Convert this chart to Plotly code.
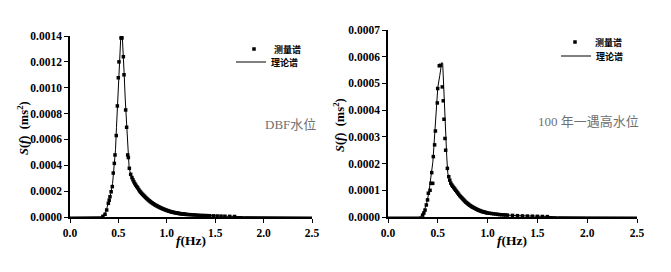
import plotly.graph_objects as go

# ---------------- data (S values in units of 1e-4 m^2 s) ----------------
# Left panel: DBF water level -- measured spectrum
meas_f_left = [0.340, 0.362, 0.379, 0.396, 0.405, 0.413, 0.425, 0.437, 0.447, 0.458,
               0.465, 0.478, 0.489, 0.499, 0.506, 0.527, 0.537, 0.551, 0.558, 0.575,
               0.585, 0.596, 0.603, 0.613, 0.627,
               0.64, 0.65, 0.66, 0.67, 0.68, 0.69, 0.70, 0.71, 0.72, 0.73,
               0.74, 0.75, 0.76, 0.77, 0.78, 0.79, 0.80, 0.81, 0.82, 0.83,
               0.84, 0.85, 0.86, 0.87, 0.88, 0.89, 0.90, 0.91, 0.92, 0.93,
               0.94, 0.95, 0.96, 0.97, 0.98, 0.99, 1.00, 1.01, 1.02, 1.03,
               1.04, 1.05, 1.06, 1.07, 1.08, 1.09, 1.10, 1.11, 1.12, 1.13,
               1.14, 1.15, 1.16, 1.17, 1.18, 1.19, 1.20, 1.22, 1.24, 1.26,
               1.28, 1.30, 1.32, 1.35, 1.38, 1.41, 1.44, 1.48, 1.52, 1.56,
               1.60, 1.65, 1.70]
meas_s_left = [0.05, 0.21, 0.54, 1.06, 1.30, 1.57, 1.95, 2.35, 3.40, 4.15,
               4.80, 6.30, 8.59, 10.77, 12.00, 13.85, 13.85, 12.40, 11.00, 8.28,
               6.94, 4.80, 4.60, 3.77, 3.30,
               3.05, 2.88, 2.72, 2.58, 2.46, 2.35, 2.25, 2.12, 2.01, 1.92,
               1.83, 1.75, 1.67, 1.60, 1.52, 1.45, 1.38, 1.31, 1.25, 1.19,
               1.13, 1.08, 1.03, 0.98, 0.93, 0.89, 0.85, 0.81, 0.77, 0.73,
               0.70, 0.66, 0.63, 0.60, 0.57, 0.54, 0.51, 0.49, 0.46, 0.44,
               0.41, 0.39, 0.37, 0.355, 0.34, 0.325, 0.31, 0.295, 0.28, 0.27,
               0.26, 0.25, 0.24, 0.23, 0.22, 0.21, 0.20, 0.19, 0.18, 0.17,
               0.16, 0.15, 0.14, 0.13, 0.12, 0.11, 0.10, 0.09, 0.08, 0.07,
               0.06, 0.05, 0.04]
# Left panel -- theoretical spectrum
theo_f_left = [0.0, 0.30, 0.32, 0.34, 0.36, 0.38, 0.40, 0.42, 0.44, 0.46, 0.47, 0.48,
               0.49, 0.50, 0.51, 0.52, 0.525, 0.54, 0.55, 0.56, 0.57, 0.58, 0.59,
               0.60, 0.61, 0.62, 0.64, 0.66, 0.70, 0.75, 0.80, 0.85, 0.90, 0.95,
               1.0, 1.1, 1.2, 1.3, 1.4, 1.5, 1.6, 1.8, 2.0, 2.5]
theo_s_left = [0.0, 0.0, 0.02, 0.10, 0.30, 0.65, 1.15, 1.80, 2.60, 4.00, 5.20, 6.90,
               8.70, 10.80, 12.40, 13.60, 14.00, 14.00, 12.80, 11.00, 9.20, 7.60, 5.90,
               4.60, 3.90, 3.50, 3.00, 2.70, 2.25, 1.75, 1.38, 1.08, 0.85, 0.66,
               0.51, 0.31, 0.20, 0.15, 0.11, 0.085, 0.06, 0.03, 0.015, 0.0]

# Right panel: 100-year high water level -- measured spectrum
meas_f_right = [0.348, 0.360, 0.372, 0.385, 0.397, 0.405, 0.422, 0.432, 0.439, 0.449,
                0.455, 0.468, 0.476, 0.495, 0.499, 0.515, 0.528, 0.545, 0.555, 0.562,
                0.572, 0.579, 0.596, 0.610, 0.620,
                0.63, 0.64, 0.65, 0.66, 0.67, 0.68, 0.69, 0.70, 0.71, 0.72,
                0.73, 0.74, 0.75, 0.76, 0.77, 0.78, 0.79, 0.80, 0.81, 0.82,
                0.83, 0.84, 0.85, 0.86, 0.87, 0.88, 0.89, 0.90, 0.91, 0.92,
                0.93, 0.94, 0.95, 0.96, 0.97, 0.98, 0.99, 1.00, 1.02, 1.04,
                1.06, 1.08, 1.10, 1.12, 1.14, 1.16, 1.18, 1.20, 1.25, 1.30,
                1.35, 1.40, 1.45, 1.50, 1.55, 1.60]
meas_s_right = [0.07, 0.15, 0.26, 0.45, 0.64, 0.89, 1.00, 1.26, 1.66, 1.26,
                2.26, 2.70, 3.22, 4.27, 4.81, 5.66, 5.68, 4.87, 4.35, 3.66,
                2.94, 2.50, 1.82, 1.51, 1.38,
                1.27, 1.20, 1.15, 1.10, 1.05, 1.00, 0.95, 0.90, 0.85, 0.80,
                0.76, 0.72, 0.68, 0.64, 0.60, 0.56, 0.53, 0.50, 0.47, 0.44,
                0.415, 0.39, 0.37, 0.35, 0.33, 0.31, 0.29, 0.27, 0.255, 0.24,
                0.225, 0.21, 0.20, 0.19, 0.18, 0.17, 0.16, 0.15, 0.14, 0.13,
                0.12, 0.11, 0.10, 0.09, 0.085, 0.08, 0.075, 0.07, 0.06, 0.05,
                0.04, 0.035, 0.03, 0.025, 0.02, 0.015]
# Right panel -- theoretical spectrum
theo_f_right = [0.0, 0.31, 0.33, 0.35, 0.37, 0.39, 0.41, 0.43, 0.45, 0.46, 0.47, 0.48,
                0.49, 0.50, 0.52, 0.54, 0.549, 0.56, 0.57, 0.58, 0.59, 0.60, 0.61,
                0.62, 0.64, 0.68, 0.72, 0.76, 0.80, 0.85, 0.90, 0.95, 1.0, 1.1,
                1.2, 1.3, 1.4, 1.5, 1.7, 2.0, 2.5]
theo_s_right = [0.0, 0.0, 0.03, 0.12, 0.30, 0.55, 0.90, 1.40, 2.05, 2.60, 3.10, 3.60,
                4.25, 4.85, 5.30, 5.78, 5.76, 4.70, 3.75, 2.90, 2.25, 1.65, 1.40,
                1.32, 1.18, 0.98, 0.80, 0.64, 0.50, 0.37, 0.27, 0.20, 0.15, 0.10,
                0.07, 0.05, 0.035, 0.025, 0.012, 0.005, 0.0]

x_ticks = [0.0, 0.5, 1.0, 1.5, 2.0, 2.5]
y_ticks_left = [0.0, 0.0002, 0.0004, 0.0006, 0.0008, 0.0010, 0.0012, 0.0014]
y_ticks_right = [0.0, 0.0001, 0.0002, 0.0003, 0.0004, 0.0005, 0.0006, 0.0007]
name_meas = "测量谱"
name_theo = "理论谱"
label_left = "DBF水位"
label_right = "100 年一遇高水位"

SCALE = 1e-4
W, H = 671, 272
SERIF = "Liberation Serif, Times New Roman, Noto Sans CJK SC, serif"
CJK = "Noto Sans CJK SC, sans-serif"


def px(x):
    return x / W


def py(y):
    return 1 - y / H


fig = go.Figure()
fig.add_trace(go.Scatter(x=theo_f_left, y=[v * SCALE for v in theo_s_left], mode="lines",
                         line=dict(color="black", width=1), name=name_theo,
                         xaxis="x", yaxis="y", legend="legend2"))
fig.add_trace(go.Scatter(x=meas_f_left, y=[v * SCALE for v in meas_s_left], mode="markers",
                         marker=dict(symbol="square", size=3.5, color="black"), name=name_meas,
                         xaxis="x", yaxis="y", legend="legend"))
fig.add_trace(go.Scatter(x=theo_f_right, y=[v * SCALE for v in theo_s_right], mode="lines",
                         line=dict(color="black", width=1), name=name_theo,
                         xaxis="x2", yaxis="y2", legend="legend4"))
fig.add_trace(go.Scatter(x=meas_f_right, y=[v * SCALE for v in meas_s_right], mode="markers",
                         marker=dict(symbol="square", size=3.5, color="black"), name=name_meas,
                         xaxis="x2", yaxis="y2", legend="legend3"))

tickfont = dict(family=SERIF, size=11.5, color="black", weight="bold")
common_x = dict(range=[0, 2.5], tickvals=x_ticks, ticktext=[f"{t:.1f}" for t in x_ticks],
                showline=True, linecolor="black", linewidth=1.5, ticks="outside",
                ticklen=4, tickwidth=1.2, tickcolor="black", showgrid=False,
                zeroline=False, tickfont=tickfont, automargin=False)
common_y = dict(showline=True, linecolor="black", linewidth=1.5, ticks="outside",
                ticklen=4, tickwidth=1.2, tickcolor="black", showgrid=False,
                zeroline=False, tickfont=tickfont, automargin=False)

legend_common = dict(font=dict(family=CJK, size=9, color="black", weight="bold"),
                     bgcolor="rgba(0,0,0,0)", borderwidth=0, xanchor="left", yanchor="middle",
                     itemwidth=30)

fig.update_layout(
    template="none",
    width=W, height=H, margin=dict(l=0, r=0, t=0, b=0, autoexpand=False),
    paper_bgcolor="white", plot_bgcolor="white",
    xaxis=dict(domain=[px(70), px(312)], anchor="y", **common_x),
    yaxis=dict(domain=[py(217), py(36)], anchor="x", range=[0, 0.0014],
               tickvals=y_ticks_left, ticktext=[f"{t:.4f}" for t in y_ticks_left], **common_y),
    xaxis2=dict(domain=[px(388), px(637)], anchor="y2", **common_x),
    yaxis2=dict(domain=[py(217), py(30)], anchor="x2", range=[0, 0.0007],
                tickvals=y_ticks_right, ticktext=[f"{t:.4f}" for t in y_ticks_right], **common_y),
    legend=dict(x=px(234), y=py(49), **legend_common),
    legend2=dict(x=px(231), y=py(62), **legend_common),
    legend3=dict(x=px(555), y=py(42), **legend_common),
    legend4=dict(x=px(556), y=py(56), **legend_common),
    showlegend=True,
)

title_font = dict(family=SERIF, size=12.5, color="black", weight="bold")
ytitle = "<i>S</i>(<i>f</i>)  (ms<sup>2</sup>)"
xtitle = "<i>f</i>(Hz)"
annos = [
    dict(x=px(23), y=py(128), text=ytitle, textangle=-90, font=title_font),
    dict(x=px(191), y=py(240), text=xtitle, font=dict(title_font, size=13.5)),
    dict(x=px(339), y=py(125), text=ytitle, textangle=-90, font=title_font),
    dict(x=px(512), y=py(240), text=xtitle, font=dict(title_font, size=13.5)),
    dict(x=px(290), y=py(125), text=label_left,
         font=dict(family=SERIF, size=13, color="#707070")),
    dict(x=px(588), y=py(122), text=label_right,
         font=dict(family=SERIF, size=13, color="#707070")),
]
for a in annos:
    fig.add_annotation(xref="paper", yref="paper", showarrow=False,
                       xanchor="center", yanchor="middle", **a)

fig.write_html("out.html")
